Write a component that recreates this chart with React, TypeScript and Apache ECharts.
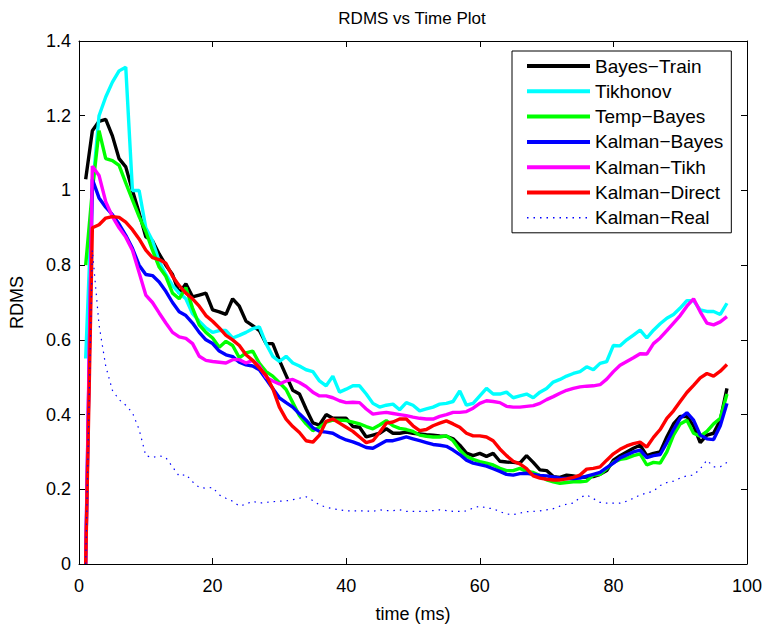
import React, { useEffect, useRef } from "react";
import * as echarts from "echarts";

const time = Array.from({ length: 97 }, (_, i) => i + 1);

const bayesTrain = [1.03,1.16,1.185,1.19,1.146,1.085,1.063,1.0,0.94,0.876,0.865,0.83,0.8,0.775,0.725,0.75,0.715,0.72,0.725,0.68,0.675,0.668,0.71,0.69,0.65,0.638,0.625,0.59,0.59,0.545,0.505,0.465,0.455,0.415,0.378,0.372,0.4,0.39,0.39,0.39,0.368,0.366,0.34,0.345,0.35,0.362,0.35,0.35,0.353,0.35,0.348,0.346,0.345,0.343,0.342,0.335,0.318,0.297,0.29,0.296,0.288,0.296,0.275,0.273,0.272,0.27,0.29,0.272,0.252,0.25,0.234,0.232,0.238,0.236,0.232,0.233,0.234,0.24,0.25,0.278,0.29,0.3,0.31,0.318,0.29,0.296,0.3,0.34,0.375,0.395,0.395,0.37,0.325,0.345,0.35,0.385,0.47];
const tikhonov = [0.55,1.0,1.2,1.25,1.29,1.32,1.33,1.0,1.0,0.9,0.865,0.81,0.775,0.745,0.725,0.71,0.67,0.65,0.632,0.62,0.625,0.625,0.605,0.612,0.62,0.63,0.635,0.59,0.556,0.542,0.556,0.538,0.53,0.52,0.515,0.49,0.477,0.503,0.46,0.468,0.477,0.477,0.455,0.43,0.42,0.425,0.428,0.413,0.432,0.425,0.41,0.415,0.42,0.428,0.43,0.435,0.463,0.425,0.43,0.45,0.47,0.455,0.455,0.46,0.445,0.45,0.455,0.445,0.46,0.47,0.487,0.494,0.503,0.51,0.515,0.528,0.52,0.537,0.542,0.585,0.584,0.6,0.613,0.626,0.605,0.626,0.643,0.658,0.668,0.685,0.705,0.705,0.68,0.676,0.676,0.668,0.698];
const tempBayes = [0.8,1.0,1.16,1.085,1.08,1.067,1.02,0.975,0.93,0.89,0.84,0.795,0.77,0.725,0.71,0.74,0.685,0.64,0.62,0.605,0.58,0.596,0.585,0.552,0.565,0.57,0.537,0.515,0.503,0.485,0.467,0.432,0.397,0.375,0.357,0.366,0.38,0.385,0.385,0.384,0.38,0.375,0.368,0.362,0.372,0.384,0.37,0.363,0.36,0.355,0.345,0.342,0.34,0.34,0.343,0.33,0.305,0.288,0.28,0.274,0.27,0.265,0.256,0.25,0.25,0.256,0.248,0.245,0.237,0.225,0.22,0.216,0.218,0.22,0.22,0.222,0.238,0.24,0.255,0.272,0.28,0.283,0.29,0.295,0.265,0.272,0.27,0.3,0.345,0.375,0.385,0.35,0.342,0.355,0.375,0.39,0.455];
const kalmanBayes = [0,1.03,0.98,0.955,0.935,0.91,0.88,0.845,0.8,0.775,0.772,0.755,0.73,0.7,0.675,0.665,0.645,0.62,0.6,0.59,0.57,0.56,0.555,0.54,0.533,0.53,0.52,0.495,0.47,0.445,0.432,0.42,0.402,0.385,0.365,0.355,0.353,0.35,0.34,0.332,0.327,0.32,0.312,0.31,0.32,0.33,0.33,0.335,0.34,0.335,0.33,0.325,0.32,0.318,0.315,0.305,0.293,0.278,0.27,0.266,0.262,0.255,0.248,0.24,0.238,0.242,0.243,0.24,0.237,0.236,0.233,0.23,0.229,0.229,0.23,0.235,0.24,0.245,0.258,0.27,0.284,0.292,0.3,0.305,0.285,0.29,0.293,0.325,0.36,0.39,0.405,0.385,0.345,0.335,0.333,0.37,0.43];
const kalmanTikh = [0,1.065,1.04,0.97,0.93,0.9,0.875,0.84,0.78,0.72,0.7,0.672,0.645,0.62,0.608,0.604,0.59,0.556,0.545,0.542,0.54,0.538,0.547,0.547,0.538,0.545,0.53,0.5,0.49,0.482,0.49,0.494,0.486,0.475,0.46,0.45,0.45,0.445,0.437,0.432,0.433,0.432,0.415,0.401,0.404,0.406,0.403,0.4,0.397,0.393,0.39,0.388,0.388,0.395,0.4,0.406,0.406,0.408,0.417,0.43,0.437,0.435,0.432,0.422,0.42,0.42,0.422,0.424,0.43,0.44,0.448,0.457,0.465,0.47,0.474,0.476,0.477,0.48,0.495,0.515,0.532,0.542,0.552,0.563,0.562,0.59,0.605,0.625,0.645,0.665,0.69,0.71,0.675,0.645,0.64,0.648,0.662];
const kalmanDirect = [0,0.9,0.908,0.926,0.93,0.928,0.915,0.895,0.87,0.84,0.82,0.815,0.805,0.77,0.745,0.725,0.71,0.69,0.665,0.65,0.632,0.612,0.6,0.585,0.56,0.545,0.525,0.505,0.47,0.42,0.388,0.368,0.352,0.33,0.326,0.345,0.382,0.388,0.377,0.366,0.355,0.34,0.325,0.33,0.352,0.377,0.38,0.388,0.388,0.37,0.357,0.36,0.37,0.377,0.383,0.375,0.366,0.35,0.343,0.343,0.34,0.33,0.308,0.29,0.275,0.268,0.255,0.236,0.23,0.227,0.225,0.225,0.228,0.232,0.238,0.254,0.256,0.26,0.278,0.295,0.307,0.316,0.322,0.326,0.313,0.339,0.36,0.39,0.41,0.435,0.459,0.478,0.498,0.51,0.503,0.516,0.534];
const kalmanReal = [0,0.84,0.64,0.53,0.465,0.44,0.425,0.405,0.36,0.29,0.285,0.29,0.285,0.26,0.235,0.24,0.22,0.205,0.203,0.205,0.185,0.176,0.168,0.155,0.16,0.168,0.163,0.165,0.167,0.168,0.169,0.172,0.176,0.18,0.17,0.158,0.152,0.148,0.145,0.142,0.142,0.142,0.142,0.141,0.145,0.143,0.143,0.145,0.141,0.141,0.141,0.141,0.143,0.145,0.143,0.141,0.141,0.142,0.15,0.155,0.15,0.148,0.14,0.134,0.132,0.136,0.14,0.141,0.142,0.145,0.148,0.155,0.16,0.163,0.178,0.185,0.175,0.165,0.163,0.163,0.163,0.168,0.176,0.185,0.19,0.195,0.21,0.218,0.222,0.23,0.236,0.238,0.255,0.278,0.26,0.26,0.272];

const seriesNames = ["Bayes\u2212Train", "Tikhonov", "Temp\u2212Bayes", "Kalman\u2212Bayes", "Kalman\u2212Tikh", "Kalman\u2212Direct", "Kalman\u2212Real"];
const seriesValues = [bayesTrain, tikhonov, tempBayes, kalmanBayes, kalmanTikh, kalmanDirect, kalmanReal];
const seriesColors = ["#000000", "#00ffff", "#00ff00", "#0000ff", "#ff00ff", "#ff0000", "#0000ff"];

const FONT = "'Liberation Sans', Arial, Helvetica, sans-serif";
const DOT_DASH = [1.5, 5];

export default function App() {
  const ref = useRef<HTMLDivElement>(null);
  useEffect(() => {
    if (!ref.current) return;
    const chart = echarts.init(ref.current, null, { renderer: "svg" });
    const axisCommon = {
      axisLine: { show: true, onZero: false, lineStyle: { color: "#000", width: 1 } },
      axisTick: { show: true, inside: true, length: 6, lineStyle: { color: "#000", width: 1 } },
      splitLine: { show: false },
    };
    const series = seriesNames.map((name, k) => ({
      name,
      type: "line",
      xAxisIndex: 0,
      yAxisIndex: 0,
      symbol: "none",
      showSymbol: false,
      data: time.map((t, i) => [t, seriesValues[k][i]]),
      lineStyle: k === 6
        ? { color: seriesColors[k], width: 1.2, type: DOT_DASH }
        : { color: seriesColors[k], width: 3.4 },
      itemStyle: { color: seriesColors[k] },
      z: 2 + k,
    }));
    const legendData = seriesNames.map((name, k) => ({
      name,
      lineStyle: k === 6
        ? { color: seriesColors[k], width: 1.5, type: DOT_DASH }
        : { color: seriesColors[k], width: 4 },
      itemStyle: { color: "transparent", borderWidth: 0, opacity: 0 },
    }));
    chart.setOption({
      animation: false,
      backgroundColor: "#ffffff",
      textStyle: { fontFamily: FONT },
      grid: { left: 77, right: 23, top: 41, bottom: 58, containLabel: false },
      xAxis: [
        {
          type: "value", min: 0, max: 100, interval: 20, position: "bottom",
          ...axisCommon,
          axisLabel: { show: true, color: "#000", fontSize: 18, margin: 13, fontFamily: FONT },
          name: "time (ms)", nameLocation: "middle", nameGap: 41,
          nameTextStyle: { color: "#000", fontSize: 18, fontFamily: FONT },
        },
        {
          type: "value", min: 0, max: 100, interval: 20, position: "top",
          ...axisCommon,
          axisLabel: { show: false },
        },
      ],
      yAxis: [
        {
          type: "value", min: 0, max: 1.4, interval: 0.2, position: "left",
          ...axisCommon,
          axisLabel: { show: true, color: "#000", fontSize: 18, margin: 8, fontFamily: FONT },
          name: "RDMS", nameLocation: "middle", nameGap: 53, nameRotate: 90,
          nameTextStyle: { color: "#000", fontSize: 18, fontFamily: FONT },
        },
        {
          type: "value", min: 0, max: 1.4, interval: 0.2, position: "right",
          ...axisCommon,
          axisLabel: { show: false },
        },
      ],
      legend: {
        orient: "vertical",
        left: 512,
        top: 51,
        backgroundColor: "#ffffff",
        borderColor: "#000000",
        borderWidth: 1,
        borderRadius: 0,
        padding: [5, 8, 5, 13],
        itemWidth: 63,
        itemHeight: 14,
        itemGap: 5.3,
        itemStyle: { color: "transparent", borderWidth: 0, opacity: 0 },
        textStyle: { color: "#000", fontSize: 19, lineHeight: 20, fontFamily: FONT },
        data: legendData,
        z: 20,
      },
      graphic: [
        {
          type: "text",
          x: 412,
          y: 18,
          style: {
            text: "RDMS vs Time Plot",
            fill: "#000",
            font: "17px " + FONT,
            textAlign: "center",
            textVerticalAlign: "middle",
          },
        },
      ],
      series,
    });
    return () => chart.dispose();
  }, []);
  return (
    <div
      ref={ref}
      style={{ position: "absolute", left: 0, top: 0, width: 770, height: 628, background: "#fff" }}
    />
  );
}
